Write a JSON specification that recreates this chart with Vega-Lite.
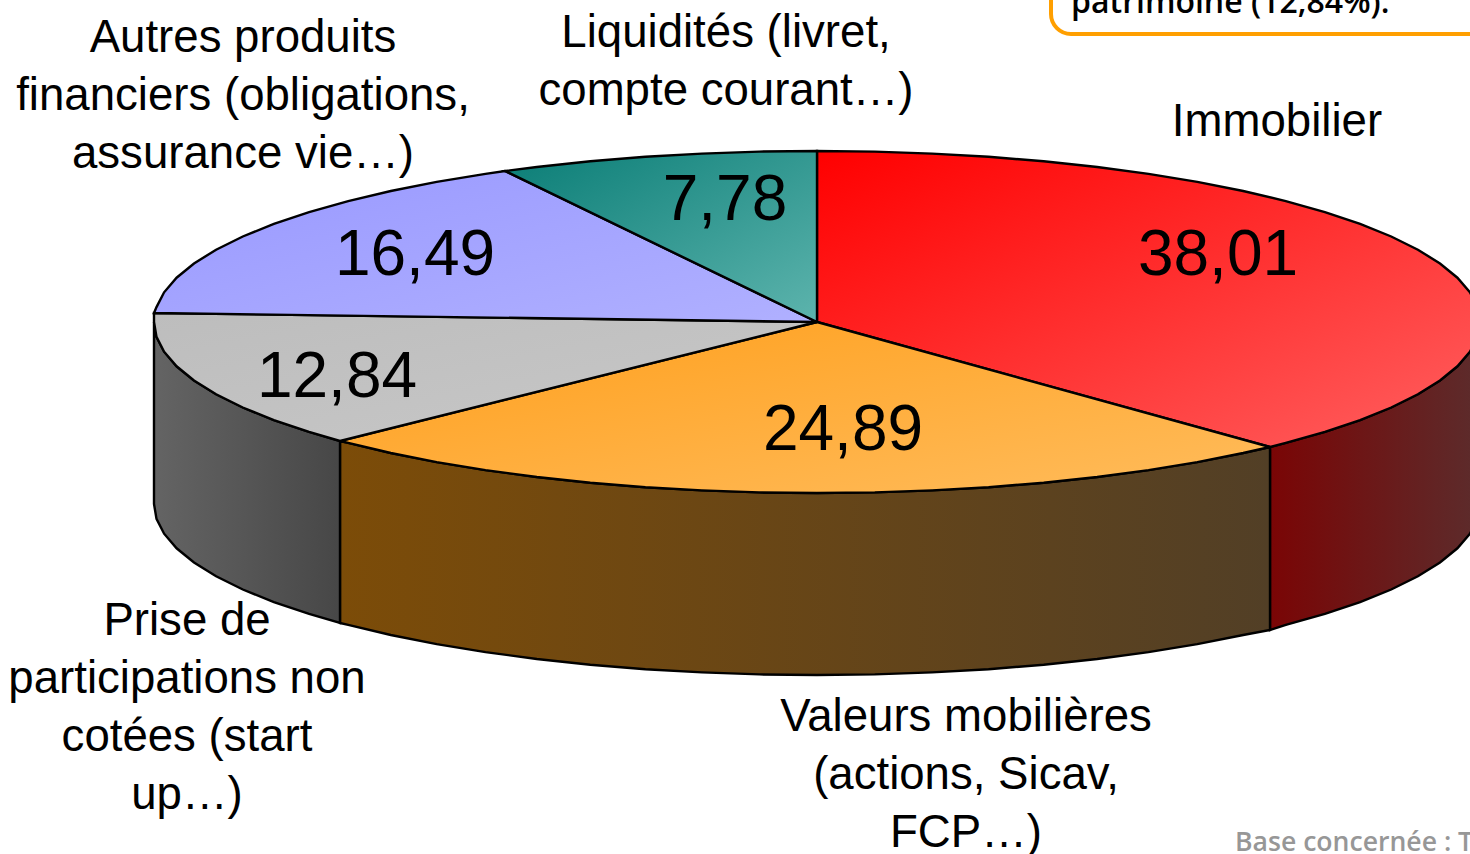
{"$schema":"https://vega.github.io/schema/vega-lite/v6.json","width":1470,"height":854,"padding":0,"autosize":{"type":"none"},"background":"white","config":{"view":{"stroke":null}},
"datasets":{"outline":[
{"p":"redside","i":0,"x":1270,"y":447},{"p":"redside","i":1,"x":1285.8,"y":442.9},{"p":"redside","i":2,"x":1324.9,"y":431.9},{"p":"redside","i":3,"x":1360.1,"y":420.1},{"p":"redside","i":4,"x":1391.2,"y":407.5},{"p":"redside","i":5,"x":1417.9,"y":394.3},{"p":"redside","i":6,"x":1440,"y":380.5},{"p":"redside","i":7,"x":1457.4,"y":366.3},{"p":"redside","i":8,"x":1469.9,"y":351.7},{"p":"redside","i":9,"x":1477.5,"y":336.9},{"p":"redside","i":10,"x":1480,"y":322},{"p":"redside","i":11,"x":1480,"y":504},{"p":"redside","i":12,"x":1477.5,"y":518.9},{"p":"redside","i":13,"x":1469.9,"y":533.7},{"p":"redside","i":14,"x":1457.4,"y":548.3},{"p":"redside","i":15,"x":1440,"y":562.5},{"p":"redside","i":16,"x":1417.9,"y":576.3},{"p":"redside","i":17,"x":1391.2,"y":589.5},{"p":"redside","i":18,"x":1360.1,"y":602.1},{"p":"redside","i":19,"x":1324.9,"y":613.9},{"p":"redside","i":20,"x":1285.8,"y":624.9},{"p":"redside","i":21,"x":1270,"y":630},{"p":"redside","i":22,"x":1270,"y":447},
{"p":"orangeside","i":0,"x":1270,"y":447},{"p":"orangeside","i":1,"x":1243.2,"y":453},{"p":"orangeside","i":2,"x":1197.3,"y":462.1},{"p":"orangeside","i":3,"x":1148.5,"y":470.1},{"p":"orangeside","i":4,"x":1097.2,"y":477},{"p":"orangeside","i":5,"x":1043.7,"y":482.7},{"p":"orangeside","i":6,"x":988.6,"y":487.2},{"p":"orangeside","i":7,"x":932.1,"y":490.4},{"p":"orangeside","i":8,"x":874.8,"y":492.4},{"p":"orangeside","i":9,"x":817,"y":493},{"p":"orangeside","i":10,"x":759.2,"y":492.4},{"p":"orangeside","i":11,"x":701.9,"y":490.4},{"p":"orangeside","i":12,"x":645.4,"y":487.2},{"p":"orangeside","i":13,"x":590.3,"y":482.7},{"p":"orangeside","i":14,"x":536.8,"y":477},{"p":"orangeside","i":15,"x":485.5,"y":470.1},{"p":"orangeside","i":16,"x":436.7,"y":462.1},{"p":"orangeside","i":17,"x":390.8,"y":453},{"p":"orangeside","i":18,"x":348.2,"y":442.9},{"p":"orangeside","i":19,"x":340,"y":441},{"p":"orangeside","i":20,"x":340,"y":623},{"p":"orangeside","i":21,"x":348.2,"y":624.9},{"p":"orangeside","i":22,"x":390.8,"y":635},{"p":"orangeside","i":23,"x":436.7,"y":644.1},{"p":"orangeside","i":24,"x":485.5,"y":652.1},{"p":"orangeside","i":25,"x":536.8,"y":659},{"p":"orangeside","i":26,"x":590.3,"y":664.7},{"p":"orangeside","i":27,"x":645.4,"y":669.2},{"p":"orangeside","i":28,"x":701.9,"y":672.4},{"p":"orangeside","i":29,"x":759.2,"y":674.4},{"p":"orangeside","i":30,"x":817,"y":675},{"p":"orangeside","i":31,"x":874.8,"y":674.4},{"p":"orangeside","i":32,"x":932.1,"y":672.4},{"p":"orangeside","i":33,"x":988.6,"y":669.2},{"p":"orangeside","i":34,"x":1043.7,"y":664.7},{"p":"orangeside","i":35,"x":1097.2,"y":659},{"p":"orangeside","i":36,"x":1148.5,"y":652.1},{"p":"orangeside","i":37,"x":1197.3,"y":644.1},{"p":"orangeside","i":38,"x":1243.2,"y":635},{"p":"orangeside","i":39,"x":1270,"y":630},{"p":"orangeside","i":40,"x":1270,"y":447},
{"p":"greyside","i":0,"x":340,"y":441},{"p":"greyside","i":1,"x":309.1,"y":431.9},{"p":"greyside","i":2,"x":273.9,"y":420.1},{"p":"greyside","i":3,"x":242.8,"y":407.5},{"p":"greyside","i":4,"x":216.1,"y":394.3},{"p":"greyside","i":5,"x":194,"y":380.5},{"p":"greyside","i":6,"x":176.6,"y":366.3},{"p":"greyside","i":7,"x":164.1,"y":351.7},{"p":"greyside","i":8,"x":156.5,"y":336.9},{"p":"greyside","i":9,"x":154,"y":322},{"p":"greyside","i":10,"x":154,"y":504},{"p":"greyside","i":11,"x":156.5,"y":518.9},{"p":"greyside","i":12,"x":164.1,"y":533.7},{"p":"greyside","i":13,"x":176.6,"y":548.3},{"p":"greyside","i":14,"x":194,"y":562.5},{"p":"greyside","i":15,"x":216.1,"y":576.3},{"p":"greyside","i":16,"x":242.8,"y":589.5},{"p":"greyside","i":17,"x":273.9,"y":602.1},{"p":"greyside","i":18,"x":309.1,"y":613.9},{"p":"greyside","i":19,"x":340,"y":623},{"p":"greyside","i":20,"x":340,"y":441},
{"p":"red","i":0,"x":817,"y":322},{"p":"red","i":1,"x":817,"y":151},{"p":"red","i":2,"x":874.8,"y":151.6},{"p":"red","i":3,"x":932.1,"y":153.6},{"p":"red","i":4,"x":988.6,"y":156.8},{"p":"red","i":5,"x":1043.7,"y":161.3},{"p":"red","i":6,"x":1097.2,"y":167},{"p":"red","i":7,"x":1148.5,"y":173.9},{"p":"red","i":8,"x":1197.3,"y":181.9},{"p":"red","i":9,"x":1243.2,"y":191},{"p":"red","i":10,"x":1285.8,"y":201.1},{"p":"red","i":11,"x":1324.9,"y":212.1},{"p":"red","i":12,"x":1360.1,"y":223.9},{"p":"red","i":13,"x":1391.2,"y":236.5},{"p":"red","i":14,"x":1417.9,"y":249.7},{"p":"red","i":15,"x":1440,"y":263.5},{"p":"red","i":16,"x":1457.4,"y":277.7},{"p":"red","i":17,"x":1469.9,"y":292.3},{"p":"red","i":18,"x":1477.5,"y":307.1},{"p":"red","i":19,"x":1480,"y":322},{"p":"red","i":20,"x":1477.5,"y":336.9},{"p":"red","i":21,"x":1469.9,"y":351.7},{"p":"red","i":22,"x":1457.4,"y":366.3},{"p":"red","i":23,"x":1440,"y":380.5},{"p":"red","i":24,"x":1417.9,"y":394.3},{"p":"red","i":25,"x":1391.2,"y":407.5},{"p":"red","i":26,"x":1360.1,"y":420.1},{"p":"red","i":27,"x":1324.9,"y":431.9},{"p":"red","i":28,"x":1285.8,"y":442.9},{"p":"red","i":29,"x":1270,"y":447},{"p":"red","i":30,"x":817,"y":322},
{"p":"orange","i":0,"x":817,"y":322},{"p":"orange","i":1,"x":1270,"y":447},{"p":"orange","i":2,"x":1243.2,"y":453},{"p":"orange","i":3,"x":1197.3,"y":462.1},{"p":"orange","i":4,"x":1148.5,"y":470.1},{"p":"orange","i":5,"x":1097.2,"y":477},{"p":"orange","i":6,"x":1043.7,"y":482.7},{"p":"orange","i":7,"x":988.6,"y":487.2},{"p":"orange","i":8,"x":932.1,"y":490.4},{"p":"orange","i":9,"x":874.8,"y":492.4},{"p":"orange","i":10,"x":817,"y":493},{"p":"orange","i":11,"x":759.2,"y":492.4},{"p":"orange","i":12,"x":701.9,"y":490.4},{"p":"orange","i":13,"x":645.4,"y":487.2},{"p":"orange","i":14,"x":590.3,"y":482.7},{"p":"orange","i":15,"x":536.8,"y":477},{"p":"orange","i":16,"x":485.5,"y":470.1},{"p":"orange","i":17,"x":436.7,"y":462.1},{"p":"orange","i":18,"x":390.8,"y":453},{"p":"orange","i":19,"x":348.2,"y":442.9},{"p":"orange","i":20,"x":340,"y":441},{"p":"orange","i":21,"x":817,"y":322},
{"p":"grey","i":0,"x":817,"y":322},{"p":"grey","i":1,"x":340,"y":441},{"p":"grey","i":2,"x":309.1,"y":431.9},{"p":"grey","i":3,"x":273.9,"y":420.1},{"p":"grey","i":4,"x":242.8,"y":407.5},{"p":"grey","i":5,"x":216.1,"y":394.3},{"p":"grey","i":6,"x":194,"y":380.5},{"p":"grey","i":7,"x":176.6,"y":366.3},{"p":"grey","i":8,"x":164.1,"y":351.7},{"p":"grey","i":9,"x":156.5,"y":336.9},{"p":"grey","i":10,"x":154,"y":322},{"p":"grey","i":11,"x":154,"y":313},{"p":"grey","i":12,"x":817,"y":322},
{"p":"blue","i":0,"x":817,"y":322},{"p":"blue","i":1,"x":154,"y":313},{"p":"blue","i":2,"x":156.5,"y":307.1},{"p":"blue","i":3,"x":164.1,"y":292.3},{"p":"blue","i":4,"x":176.6,"y":277.7},{"p":"blue","i":5,"x":194,"y":263.5},{"p":"blue","i":6,"x":216.1,"y":249.7},{"p":"blue","i":7,"x":242.8,"y":236.5},{"p":"blue","i":8,"x":273.9,"y":223.9},{"p":"blue","i":9,"x":309.1,"y":212.1},{"p":"blue","i":10,"x":348.2,"y":201.1},{"p":"blue","i":11,"x":390.8,"y":191},{"p":"blue","i":12,"x":436.7,"y":181.9},{"p":"blue","i":13,"x":485.5,"y":173.9},{"p":"blue","i":14,"x":505,"y":171},{"p":"blue","i":15,"x":817,"y":322},
{"p":"teal","i":0,"x":817,"y":322},{"p":"teal","i":1,"x":505,"y":171},{"p":"teal","i":2,"x":536.8,"y":167},{"p":"teal","i":3,"x":590.3,"y":161.3},{"p":"teal","i":4,"x":645.4,"y":156.8},{"p":"teal","i":5,"x":701.9,"y":153.6},{"p":"teal","i":6,"x":759.2,"y":151.6},{"p":"teal","i":7,"x":817,"y":151},{"p":"teal","i":8,"x":817,"y":322}
],
"labels":[
{"t":"Autres produits\nfinanciers (obligations,\nassurance vie…)","x":243,"y":52},
{"t":"Liquidités (livret,\ncompte courant…)","x":726,"y":47},
{"t":"Immobilier","x":1277,"y":136},
{"t":"Prise de\nparticipations non\ncotées (start\nup…)","x":187,"y":635},
{"t":"Valeurs mobilières\n(actions, Sicav,\nFCP…)","x":966,"y":731}
],
"values":[
{"t":"38,01","x":1218,"y":275},{"t":"24,89","x":843,"y":450},{"t":"12,84","x":337,"y":397},{"t":"16,49","x":415,"y":275},{"t":"7,78","x":725,"y":220}
]},
"encoding":{"x":{"field":"x","type":"quantitative","scale":{"domain":[0,1470],"nice":false,"zero":false},"axis":null},"y":{"field":"y","type":"quantitative","scale":{"domain":[854,0],"nice":false,"zero":false},"axis":null}},
"layer":[
{"data":{"values":[{"x":1051,"x2":1520,"y":-60,"y2":34}]},"mark":{"type":"rect","fill":"white","stroke":"#ff9f00","strokeWidth":4,"cornerRadius":20},"encoding":{"x2":{"field":"x2"},"y2":{"field":"y2"}}},
{"data":{"values":[{"t":"patrimoine (12,84%).","x":1071,"y":13}]},"mark":{"type":"text","align":"left","baseline":"alphabetic","font":"Open Sans","fontSize":32,"fontWeight":600,"color":"black"},"encoding":{"text":{"field":"t"}}},
{"data":{"values":[{"t":"Base concernée : T","x":1235,"y":851}]},"mark":{"type":"text","align":"left","baseline":"alphabetic","font":"Open Sans","fontSize":26.6,"fontWeight":600,"color":"#979797"},"encoding":{"text":{"field":"t"}}},
{"data":{"name":"outline"},"transform":[{"filter":"datum.p=='redside'"}],"mark":{"type":"line","stroke":"black","strokeWidth":2.4,"fill":{"gradient":"linear","x1":0,"y1":0,"x2":1,"y2":0,"stops":[{"offset":0,"color":"#7a0505"},{"offset":1,"color":"#5c2c2c"}]}},"encoding":{"order":{"field":"i"}}},
{"data":{"name":"outline"},"transform":[{"filter":"datum.p=='orangeside'"}],"mark":{"type":"line","stroke":"black","strokeWidth":2.4,"fill":{"gradient":"linear","x1":0,"y1":0,"x2":1,"y2":0,"stops":[{"offset":0,"color":"#7c4c08"},{"offset":1,"color":"#523f26"}]}},"encoding":{"order":{"field":"i"}}},
{"data":{"name":"outline"},"transform":[{"filter":"datum.p=='greyside'"}],"mark":{"type":"line","stroke":"black","strokeWidth":2.4,"fill":{"gradient":"linear","x1":0,"y1":0,"x2":1,"y2":0,"stops":[{"offset":0,"color":"#646464"},{"offset":1,"color":"#474747"}]}},"encoding":{"order":{"field":"i"}}},
{"data":{"name":"outline"},"transform":[{"filter":"datum.p=='red'"}],"mark":{"type":"line","stroke":"black","strokeWidth":2.4,"fill":{"gradient":"linear","x1":0,"y1":0,"x2":1,"y2":1,"stops":[{"offset":0,"color":"#ff0000"},{"offset":1,"color":"#ff6060"}]}},"encoding":{"order":{"field":"i"}}},
{"data":{"name":"outline"},"transform":[{"filter":"datum.p=='orange'"}],"mark":{"type":"line","stroke":"black","strokeWidth":2.4,"fill":{"gradient":"linear","x1":0,"y1":0,"x2":1,"y2":1,"stops":[{"offset":0,"color":"#ff9f1c"},{"offset":1,"color":"#ffbc5c"}]}},"encoding":{"order":{"field":"i"}}},
{"data":{"name":"outline"},"transform":[{"filter":"datum.p=='grey'"}],"mark":{"type":"line","stroke":"black","strokeWidth":2.4,"fill":{"gradient":"linear","x1":0,"y1":0,"x2":1,"y2":1,"stops":[{"offset":0,"color":"#bdbdbd"},{"offset":1,"color":"#c8c8c8"}]}},"encoding":{"order":{"field":"i"}}},
{"data":{"name":"outline"},"transform":[{"filter":"datum.p=='blue'"}],"mark":{"type":"line","stroke":"black","strokeWidth":2.4,"fill":{"gradient":"linear","x1":0,"y1":0,"x2":1,"y2":1,"stops":[{"offset":0,"color":"#9999ff"},{"offset":1,"color":"#b0b0ff"}]}},"encoding":{"order":{"field":"i"}}},
{"data":{"name":"outline"},"transform":[{"filter":"datum.p=='teal'"}],"mark":{"type":"line","stroke":"black","strokeWidth":2.4,"fill":{"gradient":"linear","x1":0,"y1":0,"x2":1,"y2":1,"stops":[{"offset":0,"color":"#0a7d76"},{"offset":1,"color":"#5db4ad"}]}},"encoding":{"order":{"field":"i"}}},
{"data":{"name":"labels"},"mark":{"type":"text","align":"center","baseline":"alphabetic","font":"Liberation Sans","fontSize":45.6,"lineBreak":"\n","lineHeight":58,"color":"black"},"encoding":{"text":{"field":"t"}}},
{"data":{"name":"values"},"mark":{"type":"text","align":"center","baseline":"alphabetic","font":"Liberation Sans","fontSize":64,"color":"black"},"encoding":{"text":{"field":"t"}}}
]}
